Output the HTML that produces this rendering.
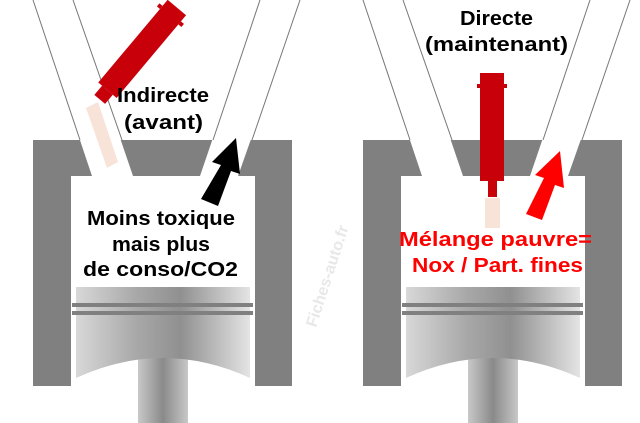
<!DOCTYPE html>
<html><head><meta charset="utf-8"><style>
html,body{margin:0;padding:0;background:#fff;width:640px;height:423px;overflow:hidden}
text{font-family:"Liberation Sans","DejaVu Sans",sans-serif;font-weight:bold}
</style></head><body>
<svg width="640" height="423" viewBox="0 0 640 423" xmlns="http://www.w3.org/2000/svg">
<defs>
<linearGradient id="pg" x1="0" x2="1" y1="0" y2="0">
<stop offset="0" stop-color="#d8d8d8"/><stop offset="0.35" stop-color="#a8a8a8"/><stop offset="0.6" stop-color="#909090"/><stop offset="1" stop-color="#e4e4e4"/>
</linearGradient>
<linearGradient id="rg" x1="0" x2="1" y1="0" y2="0">
<stop offset="0" stop-color="#c8c8c8"/><stop offset="0.5" stop-color="#8a8a8a"/><stop offset="1" stop-color="#c8c8c8"/>
</linearGradient>
<g id="cyl">
<rect x="33" y="140" width="259" height="246" fill="#808080"/>
<rect x="71" y="176" width="184" height="210" fill="#fff"/>
<polygon points="33,0 73,0 133,176 92,176" fill="#fff"/>
<polygon points="260,0 300,0 238,176 200,176" fill="#fff"/>
<line x1="33" y1="0" x2="80" y2="140" stroke="#777" stroke-width="1"/>
<line x1="73" y1="0" x2="122" y2="140" stroke="#777" stroke-width="1"/>
<line x1="260" y1="0" x2="213" y2="140" stroke="#777" stroke-width="1"/>
<line x1="300" y1="0" x2="252" y2="140" stroke="#777" stroke-width="1"/>
<rect x="138" y="355" width="50" height="68" fill="url(#rg)"/>
<path d="M76,287 H250 V378 Q163,338 76,378 Z" fill="url(#pg)"/>
<rect x="72" y="303" width="181" height="4" fill="#808080"/>
<rect x="72" y="311" width="181" height="4" fill="#808080"/>
</g>
</defs>
<use href="#cyl"/>
<use href="#cyl" x="330"/>
<!-- left injector -->
<g transform="translate(137,55) rotate(40)">
<rect x="-12" y="-62" width="24" height="108" fill="#c8000a"/>
<rect x="-7" y="46" width="14" height="12" fill="#c8000a"/>
<rect x="12" y="-54" width="4" height="4" fill="#c8000a"/>
<rect x="-16" y="-54" width="4" height="4" fill="#c8000a"/>
</g>
<polygon points="86,108 98,102 118,162 107,168" fill="#f4d0c0" opacity="0.6"/>
<!-- right injector -->
<rect x="480" y="73" width="24" height="108" fill="#c8000a"/>
<rect x="477" y="84" width="30" height="4" fill="#c8000a"/>
<rect x="488" y="181" width="9" height="16" fill="#c8000a"/>
<rect x="485" y="198" width="15" height="30" fill="#f4d0c0" opacity="0.6"/>
<!-- arrows -->
<polygon points="201,199 218,206 231,171 240,174 236,138 212,162 221,165" fill="#000"/>
<polygon points="526,214 542,220 555,185 564,188 560,151 535,175 544,178" fill="#ff0000"/>
<text x="117" y="102" font-size="20" textLength="92" lengthAdjust="spacingAndGlyphs">Indirecte</text>
<text x="124" y="129" font-size="20" textLength="79" lengthAdjust="spacingAndGlyphs">(avant)</text>
<text x="87" y="225" font-size="20" textLength="148" lengthAdjust="spacingAndGlyphs">Moins toxique</text>
<text x="112" y="251" font-size="20" textLength="98" lengthAdjust="spacingAndGlyphs">mais plus</text>
<text x="83" y="276" font-size="20" textLength="155" lengthAdjust="spacingAndGlyphs">de conso/CO2</text>
<text x="460" y="25" font-size="20" textLength="73" lengthAdjust="spacingAndGlyphs">Directe</text>
<text x="425" y="51" font-size="20" textLength="143" lengthAdjust="spacingAndGlyphs">(maintenant)</text>
<text x="399" y="246" font-size="20" fill="#ff0000" textLength="193" lengthAdjust="spacingAndGlyphs">Mélange pauvre=</text>
<text x="412" y="272" font-size="20" fill="#ff0000" textLength="171" lengthAdjust="spacingAndGlyphs">Nox / Part. fines</text>
<text x="0" y="0" font-size="16" fill="#e8e8e8" transform="translate(316,328) rotate(-72)">Fiches-auto.fr</text>
</svg>
</body></html>
